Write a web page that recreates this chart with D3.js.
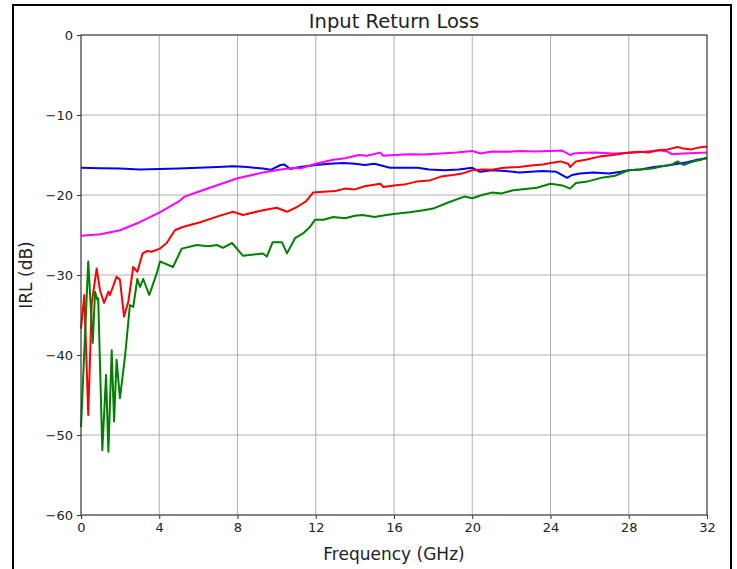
<!DOCTYPE html>
<html>
<head>
<meta charset="utf-8">
<script src="https://cdn.jsdelivr.net/npm/d3@7"></script>
<style>
  body { margin: 0; background: #fff; }
  svg { display: block; font-family: "DejaVu Sans", sans-serif; }
</style>
</head>
<body>
<svg width="737" height="569"></svg>
<script>
const svg = d3.select("svg");

// [GHz, dB]
const blueData = [[0,-16.6],[1,-16.65],[2,-16.7],[3,-16.8],[4,-16.75],[5,-16.7],[6,-16.6],[7,-16.5],[7.8,-16.4],[8.5,-16.5],[9.3,-16.7],[9.7,-16.85],[10.2,-16.25],[10.4,-16.2],[10.7,-16.75],[11.2,-16.5],[12,-16.25],[12.7,-16.1],[13.4,-16.0],[14.0,-16.1],[14.5,-16.25],[15.0,-16.1],[15.8,-16.6],[16.5,-16.6],[17.2,-16.6],[17.8,-16.8],[18.6,-16.9],[19.3,-16.8],[20.0,-16.6],[20.4,-17.1],[21.0,-16.9],[21.7,-17.0],[22.4,-17.2],[23.0,-17.1],[23.6,-17.0],[24.3,-17.1],[24.85,-17.85],[25.1,-17.5],[25.5,-17.3],[26.2,-17.2],[27.0,-17.3],[27.6,-17.1],[28.0,-16.9],[28.6,-16.8],[29.3,-16.5],[30.0,-16.3],[30.5,-16.1],[31.0,-15.9],[31.5,-15.6],[32,-15.4]];

const magentaData = [[0,-25.1],[0.5,-25],[1,-24.9],[2,-24.4],[3,-23.4],[4,-22.2],[5,-20.8],[5.3,-20.2],[6,-19.6],[7,-18.75],[8,-17.9],[9.3,-17.2],[10.2,-16.8],[11,-16.6],[11.2,-16.7],[12,-16.1],[12.9,-15.6],[13.5,-15.4],[14.2,-15.0],[14.6,-15.1],[15.3,-14.7],[15.45,-15.1],[16.0,-15.0],[16.8,-14.9],[17.5,-14.95],[18.4,-14.8],[19.2,-14.7],[20.0,-14.5],[20.4,-14.8],[21.0,-14.55],[21.8,-14.6],[22.5,-14.5],[23.2,-14.55],[24.0,-14.5],[24.6,-14.45],[25.0,-15.0],[25.2,-14.8],[25.5,-14.75],[26.3,-14.7],[27.2,-14.8],[28.0,-14.75],[28.8,-14.6],[29.6,-14.4],[30.0,-14.6],[30.2,-14.9],[30.8,-14.8],[31.4,-14.75],[32,-14.7]];

const redData = [[0,-36.7],[0.17,-32.5],[0.37,-47.5],[0.55,-33.5],[0.8,-29.2],[0.97,-31.9],[1.18,-33.5],[1.4,-32.1],[1.48,-32.5],[1.82,-30.2],[1.99,-30.6],[2.2,-35.2],[2.42,-33.3],[2.67,-29],[2.88,-29.6],[3.15,-27.3],[3.39,-27],[3.61,-27.1],[4.04,-26.7],[4.38,-26],[4.8,-24.4],[5.2,-24],[5.57,-23.75],[6.1,-23.4],[6.95,-22.7],[7.77,-22.1],[8.28,-22.5],[9.3,-21.9],[10.0,-21.6],[10.53,-22.1],[11.04,-21.5],[11.5,-20.8],[11.86,-19.7],[12.4,-19.6],[13.0,-19.5],[13.5,-19.2],[14.0,-19.3],[14.5,-18.9],[15.3,-18.6],[15.45,-19.0],[16.0,-18.8],[16.5,-18.7],[17.2,-18.3],[17.8,-18.2],[18.4,-17.7],[19.0,-17.5],[19.5,-17.3],[20.0,-16.9],[20.5,-16.8],[21.0,-16.85],[21.6,-16.6],[22.4,-16.5],[23.0,-16.3],[23.6,-16.2],[24.0,-16.0],[24.5,-15.8],[24.9,-16.1],[25.0,-16.5],[25.3,-15.8],[25.8,-15.6],[26.5,-15.2],[27.2,-15.0],[28.0,-14.7],[28.6,-14.6],[29.0,-14.7],[29.5,-14.4],[30.0,-14.3],[30.5,-14.0],[30.8,-14.2],[31.2,-14.3],[31.6,-14.05],[32,-13.95]];

const greenData = [[0,-49],[0.37,-28.3],[0.6,-38.5],[0.72,-32.1],[0.83,-33.1],[0.88,-32.9],[1.09,-51.9],[1.28,-42.5],[1.4,-52.1],[1.57,-39.4],[1.69,-48.3],[1.82,-40.6],[1.99,-45.4],[2.25,-40.2],[2.5,-33.75],[2.67,-34],[2.88,-30.5],[3.02,-31.5],[3.18,-30.5],[3.49,-32.5],[3.87,-29.8],[4.04,-28.3],[4.7,-29],[5.15,-26.7],[5.93,-26.25],[6.5,-26.4],[6.95,-26.25],[7.26,-26.6],[7.72,-26],[8.28,-27.6],[9.3,-27.3],[9.5,-27.7],[9.8,-25.9],[10.27,-25.9],[10.53,-27.3],[10.94,-25.4],[11.35,-24.8],[11.7,-24.0],[11.96,-23.1],[12.4,-23.1],[12.9,-22.75],[13.5,-22.9],[14.0,-22.6],[14.4,-22.5],[15.0,-22.75],[15.6,-22.5],[16.2,-22.3],[16.8,-22.15],[17.5,-21.9],[18.0,-21.7],[18.8,-20.9],[19.6,-20.2],[20.0,-20.4],[20.5,-20.0],[21.0,-19.7],[21.5,-19.8],[22.1,-19.4],[22.7,-19.25],[23.3,-19.1],[24.0,-18.6],[24.6,-18.8],[25.0,-19.2],[25.3,-18.5],[25.9,-18.3],[26.7,-17.8],[27.3,-17.6],[28.0,-16.9],[28.6,-16.8],[29.2,-16.7],[29.7,-16.4],[30.2,-16.2],[30.5,-15.8],[30.8,-16.25],[31.3,-15.8],[31.7,-15.6],[32,-15.3]];

const xTicks = [0, 4, 8, 12, 16, 20, 24, 28, 32];
const yTicks = [0, -10, -20, -30, -40, -50, -60];

const series = [
  { data: blueData, color: "#0000ff" },
  { data: magentaData, color: "#ff00ff" },
  { data: redData, color: "#ff0000" },
  { data: greenData, color: "#008000" }
];

const margin = { left: 81, right: 30, top: 35, bottom: 54 };
const width = 737, height = 569;

const x = d3.scaleLinear().domain([0, 32]).range([margin.left, width - margin.right]);
const y = d3.scaleLinear().domain([-60, 0]).range([height - margin.bottom, margin.top]);

// outer frame
svg.append("rect")
  .attr("x", 13).attr("y", 5)
  .attr("width", 718).attr("height", 570)
  .attr("fill", "none")
  .attr("stroke", "#000")
  .attr("stroke-width", 2);

// grid
svg.append("g")
  .selectAll("line")
  .data(xTicks)
  .join("line")
  .attr("x1", d => x(d)).attr("x2", d => x(d))
  .attr("y1", y(-60)).attr("y2", y(0))
  .attr("stroke", "#b0b0b0").attr("stroke-width", 1);

svg.append("g")
  .selectAll("line")
  .data(yTicks)
  .join("line")
  .attr("x1", x(0)).attr("x2", x(32))
  .attr("y1", d => y(d)).attr("y2", d => y(d))
  .attr("stroke", "#b0b0b0").attr("stroke-width", 1);

// lines
const line = d3.line().x(d => x(d[0])).y(d => y(d[1]));

svg.append("g")
  .selectAll("path")
  .data(series)
  .join("path")
  .attr("d", d => line(d.data))
  .attr("fill", "none")
  .attr("stroke", d => d.color)
  .attr("stroke-width", 2)
  .attr("stroke-linejoin", "round");

// frame of axes
svg.append("rect")
  .attr("x", x(0)).attr("y", y(0))
  .attr("width", x(32) - x(0)).attr("height", y(-60) - y(0))
  .attr("fill", "none")
  .attr("stroke", "#333")
  .attr("stroke-width", 1);

// axes
const xAxis = svg.append("g")
  .attr("transform", `translate(0,${y(-60)})`)
  .call(d3.axisBottom(x).tickValues(xTicks).tickSize(4).tickPadding(4).tickFormat(d3.format("d")));

const yAxis = svg.append("g")
  .attr("transform", `translate(${x(0)},0)`)
  .call(d3.axisLeft(y).tickValues(yTicks).tickSize(4).tickPadding(4).tickFormat(d3.format("d")));

[xAxis, yAxis].forEach(g => {
  g.select(".domain").remove();
  g.selectAll("line").attr("stroke", "#333");
  g.selectAll("text").attr("font-size", 13).attr("fill", "#222")
    .attr("font-family", "DejaVu Sans, sans-serif");
});

// titles
svg.append("text")
  .attr("x", (x(0) + x(32)) / 2).attr("y", 28)
  .attr("text-anchor", "middle")
  .attr("font-size", 19.5)
  .attr("fill", "#222")
  .text("Input Return Loss");

svg.append("text")
  .attr("x", (x(0) + x(32)) / 2).attr("y", 560)
  .attr("text-anchor", "middle")
  .attr("font-size", 17)
  .attr("fill", "#222")
  .text("Frequency (GHz)");

svg.append("text")
  .attr("transform", `translate(32,${(y(0) + y(-60)) / 2}) rotate(-90)`)
  .attr("text-anchor", "middle")
  .attr("font-size", 17)
  .attr("fill", "#222")
  .text("IRL (dB)");
</script>
</body>
</html>
